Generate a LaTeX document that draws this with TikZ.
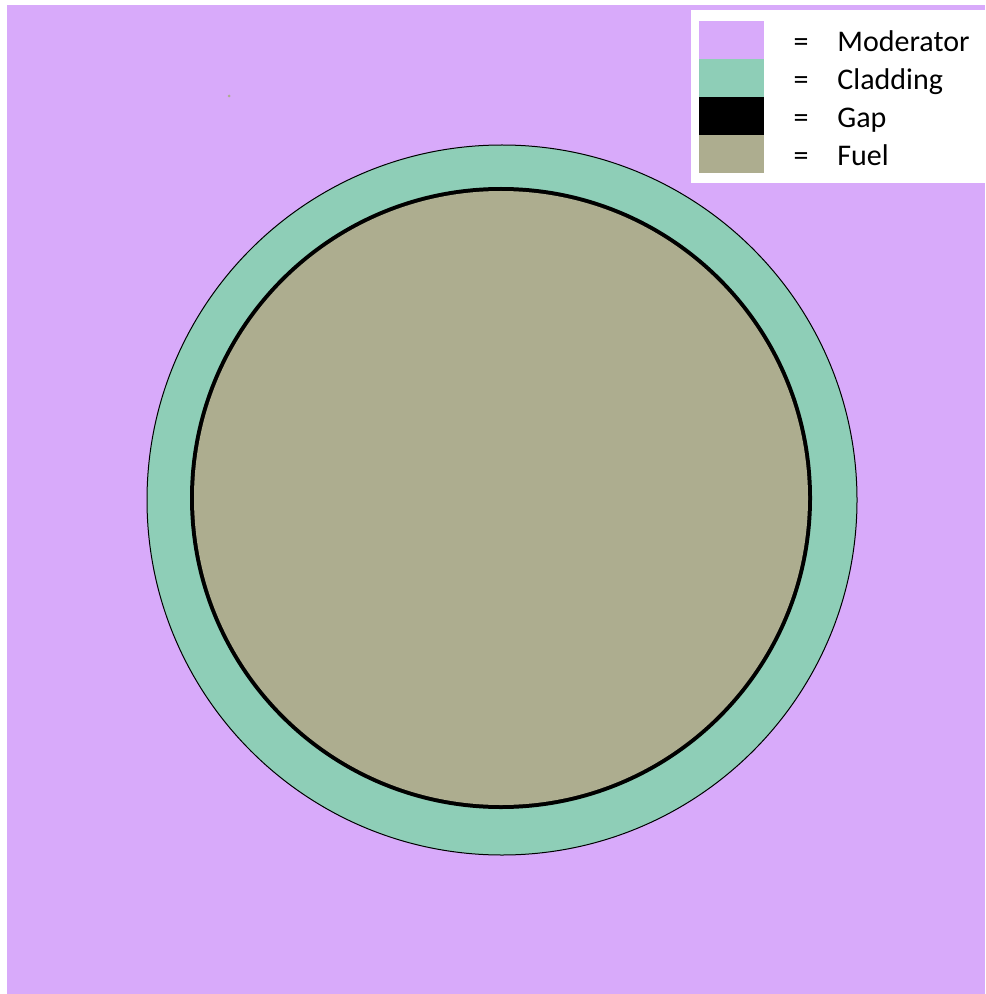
\documentclass[tikz,border=0pt]{standalone}
\usepackage{fontspec}
\setmainfont{Carlito}
\usetikzlibrary{positioning}
\definecolor{modPurple}{RGB}{216,170,250}
\definecolor{cladGreen}{RGB}{142,206,183}
\definecolor{fuelGrey}{RGB}{173,173,143}

\begin{document}
\begin{tikzpicture}[x=0.5pt,y=-0.5pt,
      swatch/.style={draw=none, fill=#1, minimum width=32.5pt, minimum height=19pt,
                     inner sep=0pt, outer sep=0pt},
      eqsign/.style={font=\fontsize{15}{17}\selectfont, inner sep=0pt, anchor=base},
      lbl/.style={font=\fontsize{15}{17}\selectfont, inner sep=0pt, anchor=base west},
      every node/.style={align=center}]
    \useasboundingbox (0,0) rectangle (985,994);
    \fill[white] (0,0) rectangle (985,994);
    % moderator box
    \fill[modPurple] (7,5) rectangle (985,994);
    % pin: cladding, gap, fuel
    \filldraw[fill=cladGreen, draw=black, line width=0.5pt] (502,500) circle[radius=355];
    \fill[black] (501,498) circle[radius=311];
    \fill[fuelGrey] (501,498) circle[radius=307];
    \fill[fuelGrey] (229,96) circle[radius=1.5];
    % legend
    \fill[white] (691,10) rectangle (985,183);
    \node[swatch=modPurple] (mod) at (731.5,40) {};
    \node[swatch=cladGreen, below=0pt of mod] (clad) {};
    \node[swatch=black, below=0pt of clad] (gap) {};
    \node[swatch=fuelGrey, below=0pt of gap] (fuel) {};
    \foreach \n/\t in {mod/Moderator, clad/Cladding, gap/Gap, fuel/Fuel}{
      \node[eqsign, yshift=-6pt] (eq-\n) at (\n.center -| 801,0) {=};
      \node[lbl, yshift=-6pt] (t-\n) at (\n.center -| 837,0) {\t};
    }
  \end{tikzpicture}
\end{document}
